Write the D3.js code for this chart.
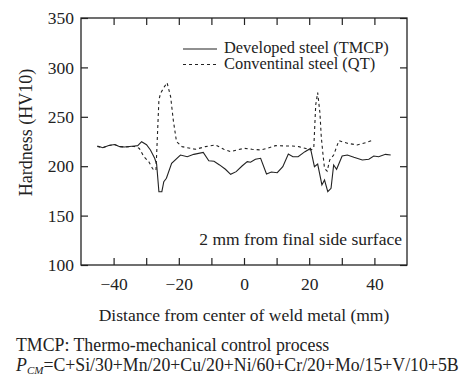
<!DOCTYPE html>
<html>
<head>
<meta charset="utf-8">
<script src="https://cdn.jsdelivr.net/npm/d3@7"></script>
<style>
  body { margin: 0; background: #fff; }
  svg text { font-family: "Liberation Serif", "Times New Roman", serif; fill: #222; }
</style>
</head>
<body>
<div id="chart"></div>
<script>
// hardness profile
const tmcpX = [-45, -43.3, -41.5, -39.7, -38.1, -36.7, -33.6, -32.6, -31.4, -29.9, -28.7, -27.4, -26.8, -26.1, -25.2, -24.6, -23.8, -22.2, -19.5, -17.4, -15.4, -12.5, -10.8, -9.2, -7.5, -5.7, -4.1, -2.4, -0.6, 1, 2, 3.5, 5.1, 6.9, 8.4, 10.2, 11.9, 13.6, 15, 16.6, 18.7, 20.4, 21.6, 22.6, 23.9, 24.7, 25.7, 26.7, 27.5, 28.4, 30.1, 31.7, 33.7, 36.3, 38.3, 39.8, 41.3, 43.4, 45];
const tmcpHV = [220.5, 218.7, 221, 222, 219.8, 219.5, 220.5, 220.8, 224.8, 221.8, 216.4, 208, 202, 174.2, 174.2, 184.3, 187.8, 203, 211.3, 209.6, 212, 214, 205.5, 205, 201.3, 196.9, 191.8, 194.5, 200.2, 204.6, 204, 207, 208, 192.1, 194.1, 193.4, 199.5, 212.3, 209.6, 209.6, 214.7, 218, 199.5, 202.2, 181, 186, 174.2, 177.6, 201.2, 196.9, 210.3, 211.3, 209, 206.3, 207, 210.3, 209.6, 212, 211.3];

const qtX = [-45, -43.3, -41.5, -39.7, -38.1, -36.7, -33.6, -32.1, -30.7, -29.2, -28.1, -27.7, -27.0, -26.1, -25.6, -24.5, -23.6, -22.5, -21.7, -20.7, -19, -16.4, -14.9, -11.8, -8.7, -6.2, -4.1, -2.1, 0, 2.5, 5.1, 7.1, 9.7, 12.2, 14.8, 16.8, 18.7, 20.4, 21.4, 22.0, 22.6, 23.3, 23.7, 24.3, 24.7, 25.5, 26.3, 27.5, 29.1, 31.7, 34.7, 37.3, 39.6];
const qtHV = [220, 218.7, 221, 222, 219.8, 219.5, 220, 218, 209.6, 204.5, 197.9, 196.2, 196, 267, 273.8, 280, 284.5, 270.3, 246.8, 224.8, 219.8, 218.1, 217.1, 219.8, 221.5, 217.1, 214.7, 216.4, 218.1, 217.1, 216.4, 218.1, 220.8, 220.5, 220.5, 219.8, 218.1, 216.4, 218, 262, 274.5, 253.5, 229.9, 209.6, 197.9, 195, 206.3, 211.3, 225.8, 223.2, 221.5, 223.8, 226.5];

const xTicks = [-40, -30, -20, -10, 0, 10, 20, 30, 40];
const xLabels = [-40, -20, 0, 20, 40];
const yTicks = [100, 150, 200, 250, 300, 350];
const seriesNames = ['Developed steel (TMCP)', 'Conventinal steel (QT)'];

const width = 465;
const height = 376;
const plotLeft = 81, plotRight = 407, plotTop = 18, plotBottom = 265;
const fontSize = 17.5;
const ink = '#222';

const svg = d3.select('#chart')
  .append('svg')
  .attr('width', width)
  .attr('height', height);

const x = d3.scaleLinear().domain([-50, 50]).range([plotLeft, plotRight]);
const y = d3.scaleLinear().domain([100, 350]).range([plotBottom, plotTop]);

// axes, ticks pointing inwards
const fmtX = d => xLabels.includes(d) ? d3.format('')(d) : '';

svg.append('g')
  .attr('transform', `translate(0,${plotBottom})`)
  .call(d3.axisBottom(x).tickValues(xTicks).tickFormat(fmtX).tickSizeInner(-7).tickSizeOuter(0).tickPadding(13));

svg.append('g')
  .attr('transform', `translate(0,${plotTop})`)
  .call(d3.axisTop(x).tickValues(xTicks).tickFormat('').tickSizeInner(-7).tickSizeOuter(0));

svg.append('g')
  .attr('transform', `translate(${plotLeft},0)`)
  .call(d3.axisLeft(y).tickValues(yTicks).tickSizeInner(-7).tickSizeOuter(0).tickPadding(7));

svg.append('g')
  .attr('transform', `translate(${plotRight},0)`)
  .call(d3.axisRight(y).tickValues(yTicks).tickFormat('').tickSizeInner(-7).tickSizeOuter(0));

svg.selectAll('.domain').remove();
svg.selectAll('.tick line').attr('stroke', ink).attr('stroke-width', 1.2);
svg.selectAll('.tick text')
  .attr('font-size', fontSize)
  .attr('font-family', '"Liberation Serif", "Times New Roman", serif')
  .attr('fill', ink);

svg.append('rect')
  .attr('x', plotLeft)
  .attr('y', plotTop)
  .attr('width', plotRight - plotLeft)
  .attr('height', plotBottom - plotTop)
  .attr('fill', 'none')
  .attr('stroke', ink)
  .attr('stroke-width', 1.3);

// curves
const line = d3.line()
  .x(d => x(d[0]))
  .y(d => y(d[1]));

svg.append('path')
  .datum(qtX.map((v, i) => [v, qtHV[i]]))
  .attr('d', line)
  .attr('fill', 'none')
  .attr('stroke', ink)
  .attr('stroke-width', 1.1)
  .attr('stroke-dasharray', '3,3');

svg.append('path')
  .datum(tmcpX.map((v, i) => [v, tmcpHV[i]]))
  .attr('d', line)
  .attr('fill', 'none')
  .attr('stroke', ink)
  .attr('stroke-width', 1.1);

// legend
const legend = svg.append('g');
seriesNames.forEach((name, i) => {
  const ly = 49 + i * 15.5;
  legend.append('line')
    .attr('x1', 183).attr('x2', 217)
    .attr('y1', ly).attr('y2', ly)
    .attr('stroke', ink)
    .attr('stroke-width', 1.1)
    .attr('stroke-dasharray', i === 0 ? null : '3,3');
  legend.append('text')
    .attr('x', 224)
    .attr('y', ly + 4)
    .attr('font-size', 16.4)
    .text(name);
});

svg.append('text')
  .attr('x', 402)
  .attr('y', 245)
  .attr('text-anchor', 'end')
  .attr('font-size', fontSize)
  .text('2 mm from final side surface');

// axis titles
svg.append('text')
  .attr('x', (plotLeft + plotRight) / 2)
  .attr('y', 321)
  .attr('text-anchor', 'middle')
  .attr('font-size', fontSize)
  .text('Distance from center of weld metal (mm)');

svg.append('text')
  .attr('transform', 'translate(32,132.5) rotate(-90)')
  .attr('text-anchor', 'middle')
  .attr('font-size', 18)
  .text('Hardness (HV10)');

// footnotes
svg.append('text')
  .attr('x', 16)
  .attr('y', 351)
  .attr('font-size', 17.8)
  .text('TMCP: Thermo-mechanical control process');

const pcm = svg.append('text')
  .attr('x', 16)
  .attr('y', 371)
  .attr('font-size', 17.8);
pcm.append('tspan').attr('font-style', 'italic').text('P');
pcm.append('tspan').attr('font-style', 'italic').attr('font-size', 11).attr('dy', 3).text('CM');
pcm.append('tspan').attr('dy', -3).text('=C+Si/30+Mn/20+Cu/20+Ni/60+Cr/20+Mo/15+V/10+5B');
</script>
</body>
</html>
